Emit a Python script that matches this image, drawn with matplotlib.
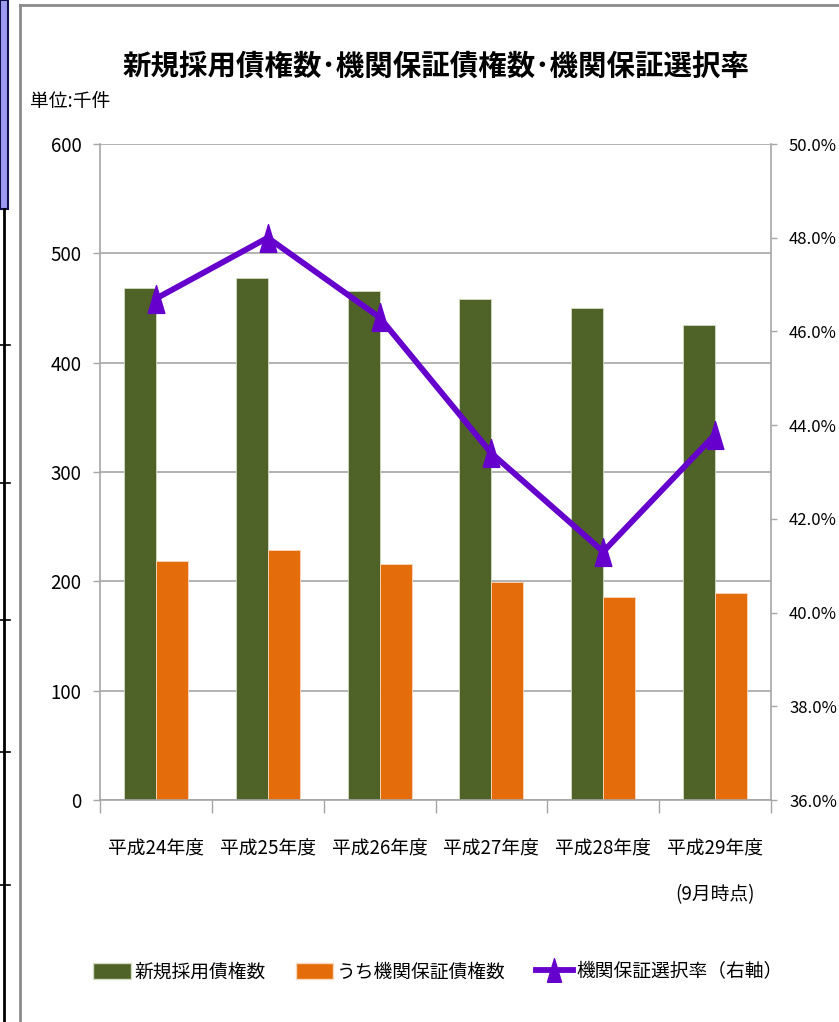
import numpy as np
import matplotlib.pyplot as plt
from matplotlib.lines import Line2D
from matplotlib.patches import Rectangle, Patch
from matplotlib.ticker import FuncFormatter, FixedLocator

plt.rcParams['font.family'] = ['Noto Sans CJK JP', 'DejaVu Sans']

# data (単位: 千件, rate in %)
years = ['平成24年度', '平成25年度', '平成26年度', '平成27年度', '平成28年度', '平成29年度\n(9月時点)']
new_bonds = [468, 477, 466, 458, 450, 434]
guarantee_bonds = [219, 229, 216, 199, 186, 189]
select_rate = [46.7, 48.0, 46.3, 43.4, 41.3, 43.8]

green = '#4F6228'
orange = '#E46C0A'
purple = '#6600CC'
grid_gray = '#A6A6A6'

W, H = 839, 1022
fig = plt.figure(figsize=(W / 100, H / 100), dpi=100)
fig.patch.set_facecolor('white')

# outer chart frame (cut off on the right and bottom)
fig.add_artist(Line2D([20 / W, 20 / W], [0, 1 - 5 / H], color='#8c8c8c', lw=2, transform=fig.transFigure))
fig.add_artist(Line2D([20 / W, 1], [1 - 5 / H, 1 - 5 / H], color='#8c8c8c', lw=2, transform=fig.transFigure))

# bits of the spreadsheet on the left edge
fig.add_artist(Rectangle((0, 1 - 209 / H), 8 / W, 209 / H, facecolor='#9c9cf2', edgecolor='#10104a',
                         lw=1.5, transform=fig.transFigure))
fig.add_artist(Line2D([4 / W, 4 / W], [0, 1 - 209 / H], color='black', lw=2, transform=fig.transFigure))
for yy in [345, 483, 620, 752, 885]:
    fig.add_artist(Line2D([0, 10 / W], [1 - yy / H, 1 - yy / H], color='black', lw=1.2, transform=fig.transFigure))

ax = fig.add_axes([100 / W, 1 - 800 / H, 671 / W, 656 / H])
x = np.arange(len(years))
w = 0.286
ax.bar(x - w / 2, new_bonds, w, color=green, edgecolor='#d4dcc4', linewidth=0.6, zorder=2)
ax.bar(x + w / 2, guarantee_bonds, w, color=orange, edgecolor='#fad8bc', linewidth=0.6, zorder=2)
ax.set_xlim(-0.5, len(years) - 0.5)
ax.set_ylim(0, 600)
ax.set_yticks(range(0, 601, 100))
ax.grid(axis='y', color=grid_gray, lw=1.2, zorder=0)
ax.set_axisbelow(True)

ax.set_xticks(x)
ax.set_xticklabels(years, fontsize=13.5, linespacing=2.5)
ax.xaxis.set_minor_locator(FixedLocator(np.arange(-0.5, len(years), 1.0)))
ax.tick_params(axis='x', which='major', length=0, pad=28)
ax.tick_params(axis='x', which='minor', length=9.5, width=1, color=grid_gray)
ax.tick_params(axis='y', length=5, width=1, color=grid_gray, pad=8.5, labelsize=13.5)
for s in ['top', 'right']:
    ax.spines[s].set_visible(False)
for s in ['left', 'bottom']:
    ax.spines[s].set_color(grid_gray)
    ax.spines[s].set_linewidth(1.2)

ax2 = ax.twinx()
tri = [(-0.6, -1.0), (0.6, -1.0), (0.0, 1.0), (-0.6, -1.0)]
ax2.plot(x, select_rate, color=purple, lw=4.2, marker=tri, ms=20, mfc=purple, mec=purple, zorder=3)
ax2.set_ylim(36, 50)
ax2.set_yticks(np.arange(36, 50.1, 2))
ax2.yaxis.set_major_formatter(FuncFormatter(lambda v, p: f'{v:.1f}%'))
ax2.tick_params(axis='y', length=4, width=1, color=grid_gray, pad=9, labelsize=12)
for s in ['top', 'left', 'bottom']:
    ax2.spines[s].set_visible(False)
ax2.spines['right'].set_color(grid_gray)
ax2.spines['right'].set_linewidth(1.2)

fig.text(436 / W, 1 - 67 / H, '新規採用債権数･機関保証債権数･機関保証選択率',
         ha='center', va='center', fontsize=20.5, fontweight='bold')
fig.text(30 / W, 1 - 101 / H, '単位:千件', ha='left', va='center', fontsize=13.5)

handles = [
    Patch(facecolor=green, edgecolor='#d4dcc4', label='新規採用債権数'),
    Patch(facecolor=orange, edgecolor='#fad8bc', label='うち機関保証債権数'),
    Line2D([], [], color=purple, lw=4.2, marker=tri, ms=17, label='機関保証選択率（右軸）'),
]
fig.legend(handles=handles, loc='center', bbox_to_anchor=(438 / W, 1 - 972 / H), ncol=3,
           frameon=False, fontsize=13.5, handlelength=2.0, handleheight=0.9,
           handletextpad=0.2, columnspacing=1.6)

fig.savefig('out.png', dpi=100)
